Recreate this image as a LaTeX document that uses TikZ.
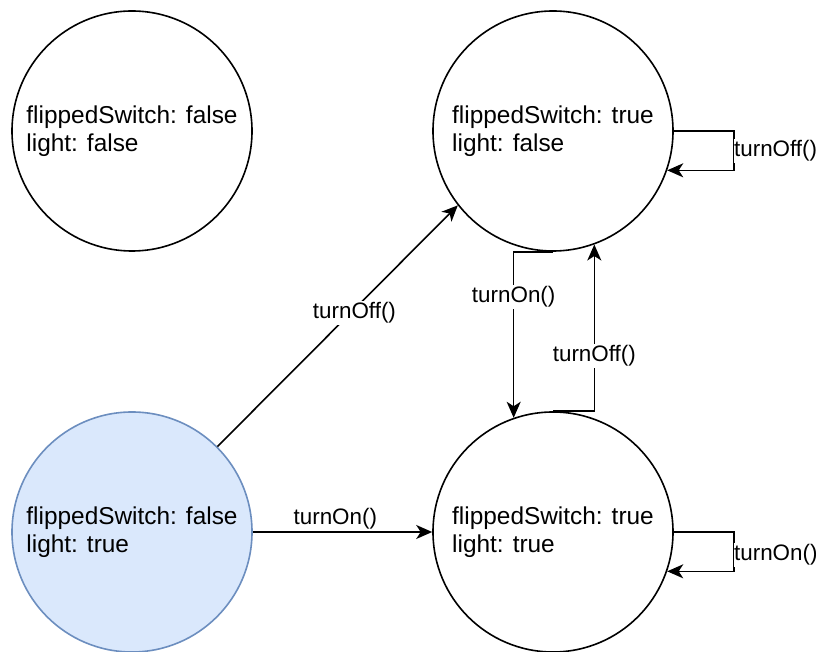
\documentclass[tikz,border=0pt]{standalone}
\usepackage{fontspec}
\setmainfont{Liberation Sans}
\usetikzlibrary{arrows.meta}
\definecolor{startfill}{HTML}{DAE8FC}
\definecolor{startline}{HTML}{6C8EBF}
\tikzset{
  state/.style={circle, draw, line width=1.6bp, minimum size=240bp, inner sep=0pt,
    align=left, font=\fontsize{24.4bp}{27.7bp}\selectfont},
  start/.style={state, fill=startfill, draw=startline},
  trans/.style={line width=1.6bp, -{Stealth[length=16bp,width=14bp,inset=4.5bp]}},
  lbl/.style={fill=white, inner sep=1.5bp, font=\fontsize{22.4bp}{26bp}\selectfont},
}
\begin{document}
\begin{tikzpicture}[x=1bp, y=1bp]
  \useasboundingbox (0,0) rectangle (816,652);

  % states
  \node[state] (TL) at (132,521) {flippedSwitch: false\\light: false};
  \node[state] (TR) at (553,521) {flippedSwitch: true\\light: false};
  \node[start] (BL) at (132,120) {flippedSwitch: false\\light: true};
  \node[state] (BR) at (553,120) {flippedSwitch: true\\light: true};

  % transitions from the start state
  \draw[trans] (BL.45) -- node[lbl, pos=0.57, yshift=-4bp] {turnOff()} (TR.218.7);
  \draw[trans] (BL.east) -- node[lbl, pos=0.46, above, fill=none, inner sep=2bp] {turnOn()} (BR.west);

  % transitions between the switched states
  \draw[trans] (TR.south) -- (TR.south -| BR.109.47)
    -- node[lbl, pos=0.27] {turnOn()} (BR.109.47);
  \draw[trans] (BR.north) -- (BR.north -| TR.-70.53)
    -- node[lbl, pos=0.33] {turnOff()} (TR.-70.53);

  % self loops
  \coordinate (TRloop) at ([xshift=60bp]TR.east);
  \draw[trans] (TR.east) -- (TRloop)
    -- node[lbl, anchor=west, inner xsep=0.5bp, xshift=-1bp] {turnOff()} (TRloop |- TR.-19.47)
    -- (TR.-19.47);
  \coordinate (BRloop) at ([xshift=60bp]BR.east);
  \draw[trans] (BR.east) -- (BRloop)
    -- node[lbl, anchor=west, inner xsep=0.5bp, xshift=-1bp, pos=0.58] {turnOn()} (BRloop |- BR.-19.47)
    -- (BR.-19.47);
\end{tikzpicture}
\end{document}
